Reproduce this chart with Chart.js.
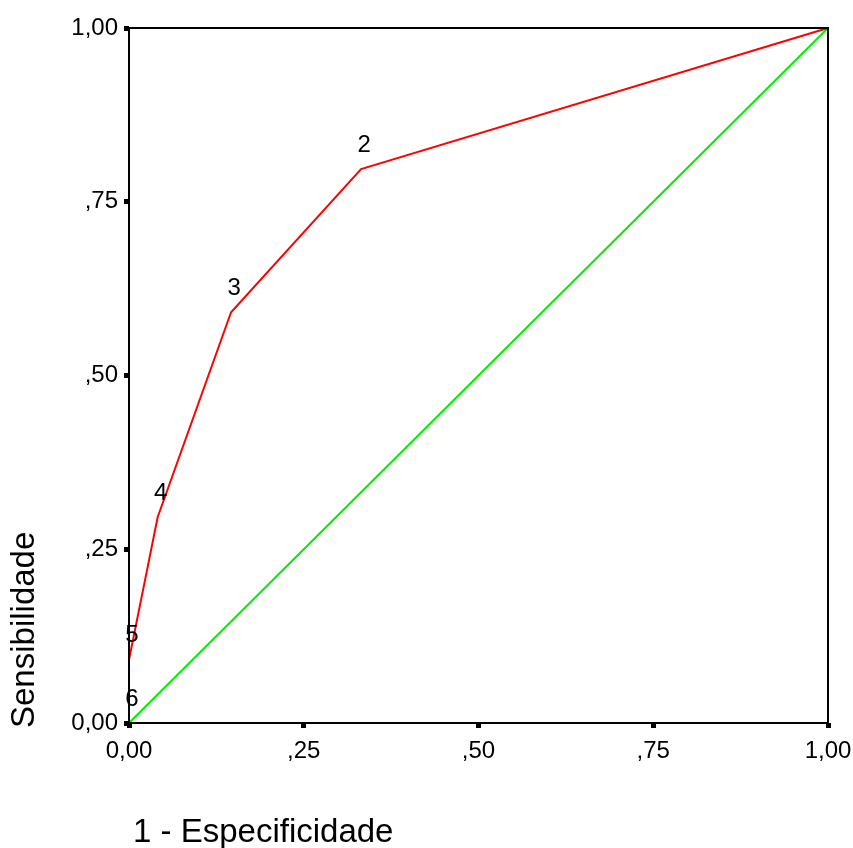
<!DOCTYPE html>
<html>
<head>
<meta charset="utf-8">
<script src="https://cdn.jsdelivr.net/npm/chart.js@4/dist/chart.umd.min.js"></script>
<style>
  html, body { margin: 0; padding: 0; background: #ffffff; }
  #wrap { width: 853px; height: 848px; }
</style>
</head>
<body>
<div id="wrap"><canvas id="rocChart" width="853" height="848"></canvas></div>
<script>
// ROC curve points (1 - especificidade, sensibilidade)
const rocFpr = [1, 0.332, 0.146, 0.041, 0, 0];
const rocTpr = [1, 0.797, 0.591, 0.296, 0.091, 0];
const pointLabels = ['', '2', '3', '4', '5', '6'];

// reference diagonal
const diagX = [0, 1];
const diagY = [0, 1];

const tickValues = [0, 0.25, 0.5, 0.75, 1];
const tickLabels = ['0,00', ',25', ',50', ',75', '1,00'];

const xTitle = '1 - Especificidade';
const yTitle = 'Sensibilidade';

const FONT = '"Liberation Sans", Arial, sans-serif';

function tickText(value) {
    const i = tickValues.findIndex(v => Math.abs(v - value) < 1e-6);
    return i >= 0 ? tickLabels[i] : '';
}

// frame, point numbers and axis titles
const rocDecor = {
    id: 'rocDecor',
    afterDatasetsDraw: (chart) => {
        const ctx = chart.ctx;
        const area = chart.chartArea;
        const xs = chart.scales.x;
        const ys = chart.scales.y;

        ctx.save();
        ctx.strokeStyle = '#000000';
        ctx.lineWidth = 2;
        ctx.strokeRect(area.left, area.top, area.right - area.left, area.bottom - area.top);

        ctx.fillStyle = '#000000';
        ctx.font = '24px ' + FONT;
        ctx.textAlign = 'center';
        ctx.textBaseline = 'middle';
        pointLabels.forEach((lbl, i) => {
            if (!lbl) return;
            const px = xs.getPixelForValue(rocFpr[i]);
            const py = ys.getPixelForValue(rocTpr[i]);
            ctx.fillText(lbl, px + 3, py - 24);
        });

        ctx.font = '33px ' + FONT;
        ctx.textAlign = 'left';
        ctx.textBaseline = 'alphabetic';
        ctx.fillText(xTitle, 133, 842);

        ctx.translate(34, 728);
        ctx.rotate(-Math.PI / 2);
        ctx.fillText(yTitle, 0, 0);
        ctx.restore();
    }
};

const ctx = document.getElementById('rocChart').getContext('2d');

new Chart(ctx, {
    type: 'scatter',
    data: {
        datasets: [
            {
                label: 'ROC',
                data: rocFpr.map((x, i) => ({ x: x, y: rocTpr[i] })),
                showLine: true,
                borderColor: '#ff0000',
                borderWidth: 2,
                pointRadius: 0,
                tension: 0,
                clip: false
            },
            {
                label: 'Diagonal',
                data: diagX.map((x, i) => ({ x: x, y: diagY[i] })),
                showLine: true,
                borderColor: '#00ee00',
                borderWidth: 2,
                pointRadius: 0,
                clip: false
            }
        ]
    },
    options: {
        responsive: false,
        animation: false,
        layout: {
            padding: { top: 28, right: 25, left: 0, bottom: 0 }
        },
        plugins: {
            legend: { display: false },
            tooltip: { enabled: false }
        },
        scales: {
            x: {
                type: 'linear',
                min: 0,
                max: 1,
                afterFit: (scale) => {
                    scale.height = 125;
                    scale.paddingLeft = 0;
                    scale.paddingRight = 0;
                },
                afterBuildTicks: (scale) => { scale.ticks = tickValues.map(v => ({ value: v })); },
                border: { display: false },
                grid: {
                    drawOnChartArea: false,
                    drawTicks: true,
                    tickLength: 5,
                    tickWidth: 5,
                    color: '#000000'
                },
                ticks: {
                    autoSkip: false,
                    maxRotation: 0,
                    padding: 9,
                    color: '#000000',
                    font: { family: FONT, size: 24 },
                    callback: (value) => tickText(value)
                }
            },
            y: {
                type: 'linear',
                min: 0,
                max: 1,
                afterFit: (scale) => {
                    scale.width = 129;
                    scale.paddingTop = 0;
                    scale.paddingBottom = 0;
                },
                afterBuildTicks: (scale) => { scale.ticks = tickValues.map(v => ({ value: v })); },
                border: { display: false },
                grid: {
                    drawOnChartArea: false,
                    drawTicks: true,
                    tickLength: 5,
                    tickWidth: 5,
                    color: '#000000'
                },
                ticks: {
                    autoSkip: false,
                    padding: 6,
                    color: '#000000',
                    font: { family: FONT, size: 24 },
                    callback: (value) => tickText(value)
                }
            }
        }
    },
    plugins: [rocDecor]
});
</script>
</body>
</html>
